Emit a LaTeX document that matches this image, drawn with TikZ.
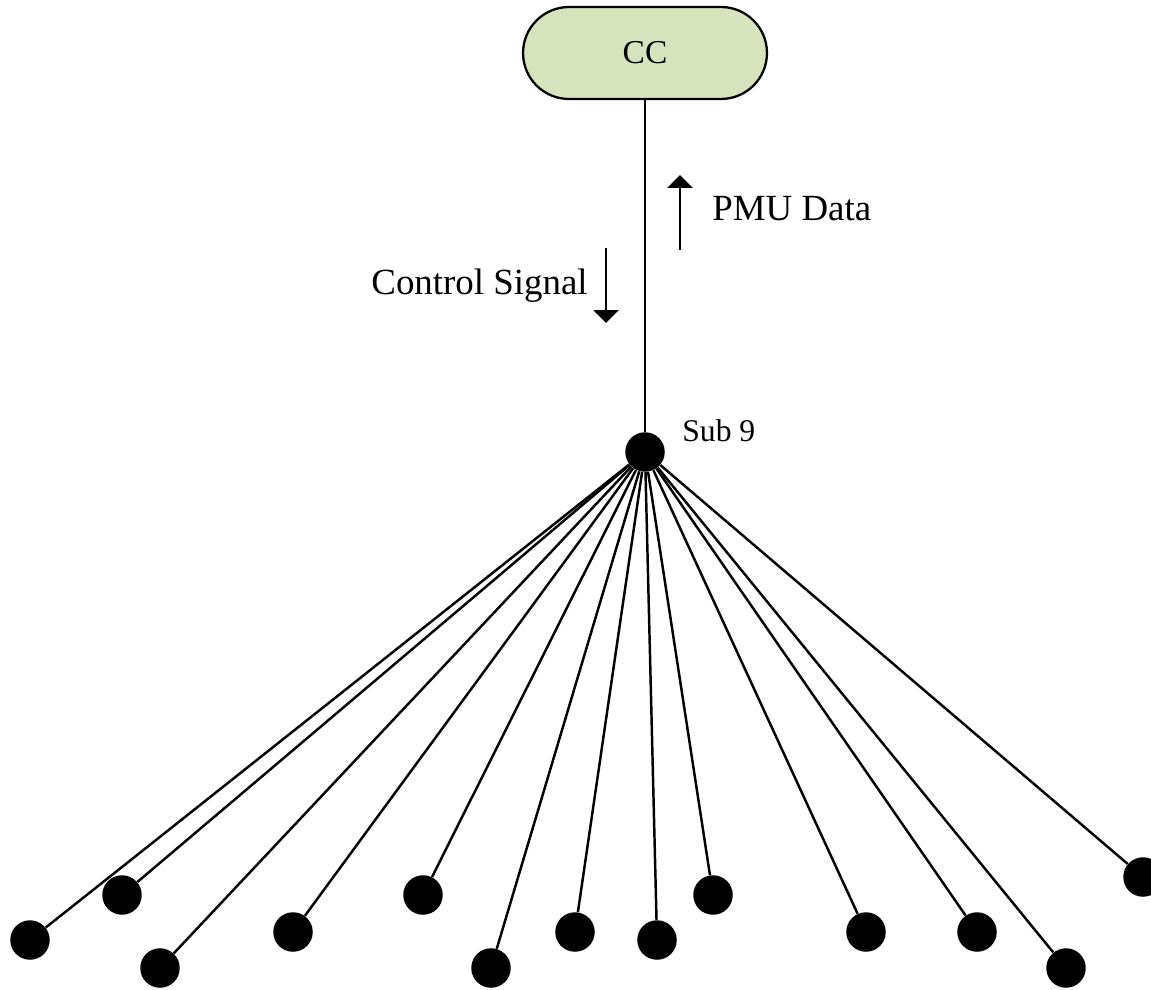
\documentclass[tikz,border=0pt]{standalone}
\usepackage{fontspec}
\setmainfont{Liberation Serif}
\usetikzlibrary{arrows.meta,positioning}
\tikzset{
  >={Triangle[length=2.6mm,width=5mm]},
  link/.style  ={line width=1.4pt},
  flow/.style  ={line width=1.3pt, ->},
  bus/.style   ={circle, fill=black, inner sep=0pt, minimum size=7.9mm},
  centre/.style={draw, line width=1.3pt, fill=ccfill, rounded corners=0.92cm,
                 minimum width=4.88cm, minimum height=1.84cm,
                 font=\fontsize{19}{23}\selectfont},
  lbl/.style   ={inner sep=0pt, font=\fontsize{21}{25}\selectfont},
}
\definecolor{ccfill}{RGB}{215,227,188}

\begin{document}
\begin{tikzpicture}[x=0.02cm,y=-0.02cm]
  \useasboundingbox (0,0) rectangle (1151,989);

  % control centre and substation 9
  \node[centre] (cc) at (645,53) {CC};
  \node[bus] (sub9) at (645,452) {};
  \node[lbl, font=\fontsize{18}{22}\selectfont, anchor=west] (sublbl) at (682,431) {Sub 9};
  \draw[link] (cc) -- (sub9);

  % data and control flow
  \coordinate (pmuA) at (680,250);
  \coordinate (pmuB) at (680,175);
  \draw[flow] (pmuA) -- (pmuB);
  \node[lbl, anchor=west] (pmu) at (712,209) {PMU Data};
  \coordinate (ctlA) at (606,248);
  \coordinate (ctlB) at (606,323);
  \draw[flow] (ctlA) -- (ctlB);
  \node[lbl, anchor=east] (ctl) at (588,286) {Control Signal};

  % buses fed from Sub 9
  \node[bus] (b1)  at (30,940)   {};
  \node[bus] (b2)  at (122,895)  {};
  \node[bus] (b3)  at (160,968)  {};
  \node[bus] (b4)  at (293,932)  {};
  \node[bus] (b5)  at (423,895)  {};
  \node[bus] (b6)  at (491,968)  {};
  \node[bus] (b7)  at (575,932)  {};
  \node[bus] (b8)  at (657,940)  {};
  \node[bus] (b9)  at (713,895)  {};
  \node[bus] (b10) at (866,932)  {};
  \node[bus] (b11) at (977,932)  {};
  \node[bus] (b12) at (1066,968) {};
  \node[bus] (b13) at (1143,877) {};

  \draw[link] (sub9) -- (b1);
  \draw[link] (sub9) -- (b2);
  \draw[link] (sub9) -- (b3);
  \draw[link] (sub9) -- (b4);
  \draw[link] (sub9) -- (b5);
  \draw[link] (sub9) -- (b6);
  \draw[link] (sub9) -- (b7);
  \draw[link] (sub9) -- (b8);
  \draw[link] (sub9) -- (b9);
  \draw[link] (sub9) -- (b10);
  \draw[link] (sub9) -- (b11);
  \draw[link] (sub9) -- (b12);
  \draw[link] (sub9) -- (b13);
\end{tikzpicture}
\end{document}
